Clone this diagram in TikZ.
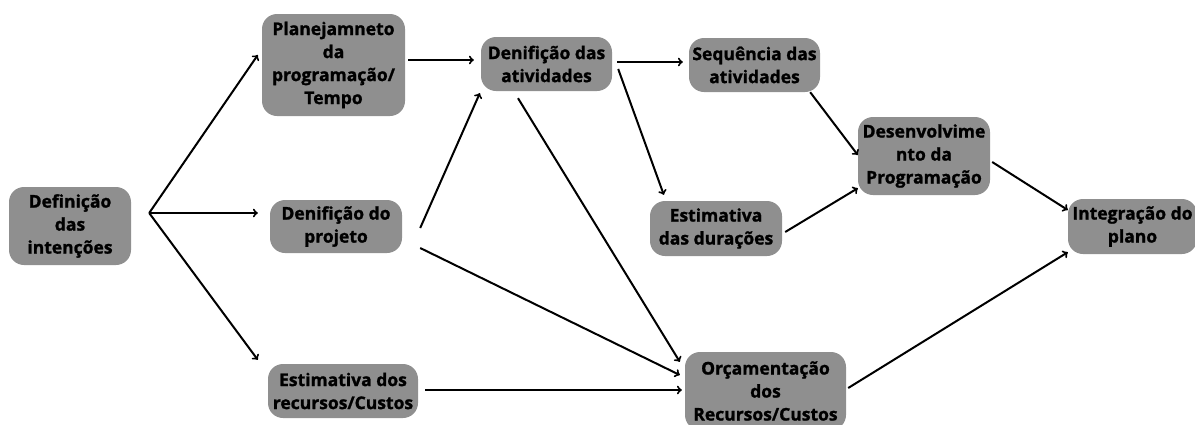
\documentclass[tikz,border=0pt]{standalone}
\usepackage{fontspec}
\setmainfont{Open Sans}
\newfontfamily\boxfont{Open Sans}[BoldFeatures={FakeBold=1.3}]
\usepackage{tikz}
\usetikzlibrary{arrows}
\usepackage{xcolor}
\definecolor{boxgray}{RGB}{143,143,143}

\tikzset{etapa/.style={rectangle, rounded corners=15pt, fill=boxgray, align=center,
    inner sep=0pt, font=\boxfont\fontsize{17.5}{23}\selectfont\bfseries},
  seta/.style={->, line width=2pt}}

\begin{document}
\begin{tikzpicture}[x=1pt,y=-1pt]
\useasboundingbox (0,0) rectangle (1195,424);

\node[etapa, minimum width=122pt, minimum height=78pt] (def) at (70,226) {Definição\\das\\intenções};
\node[etapa, minimum width=143pt, minimum height=102pt] (plan) at (333.5,65) {Planejamneto\\da\\programação/\\Tempo};
\node[etapa, minimum width=132pt, minimum height=53pt] (proj) at (336,226.5) {Denifição do\\projeto};
\node[etapa, minimum width=150pt, minimum height=54pt] (estrec) at (343,391) {Estimativa dos\\recursos/Custos};
\node[etapa, minimum width=131pt, minimum height=54pt] (ativ) at (546.5,64) {Denifição das\\atividades};
\node[etapa, minimum width=131pt, minimum height=54pt] (seq) at (754.5,65) {Sequência das\\atividades};
\node[etapa, minimum width=132pt, minimum height=55pt] (dur) at (716,228.5) {Estimativa\\das durações};
\node[etapa, minimum width=132pt, minimum height=78pt] (desen) at (924,156) {Desenvolvime\\nto da\\Programação};
\node[etapa, minimum width=129pt, minimum height=55pt] (integ) at (1132.5,226.5) {Integração do\\plano};
\node[etapa, minimum width=161pt, minimum height=78pt] (orc) at (765.5,391) {Orçamentação\\dos\\Recursos/Custos};

\coordinate (split) at ([xshift=18pt,yshift=13pt]def.east);

\draw[seta] (split) -- ([xshift=-4pt,yshift=10pt]plan.west);
\draw[seta] (split) -- ([xshift=-12pt,yshift=13.5pt]proj.west);
\draw[seta] (split) -- ([xshift=-10pt,yshift=4pt]estrec.north west);

\draw[seta] ([xshift=3pt,yshift=5pt]plan.east) -- ([xshift=-7pt,yshift=4pt]ativ.west);
\draw[seta] ([xshift=18pt,yshift=-1.5pt]proj.east) -- ([xshift=-1pt,yshift=-2pt]ativ.south west);
\draw[seta] ([xshift=18pt,yshift=-21.5pt]proj.east) -- ([xshift=-5pt,yshift=16pt]orc.west);
\draw[seta] ([xshift=-28.5pt,yshift=-7pt]ativ.south) -- ([xshift=-5pt,yshift=-10pt]orc.north west);
\draw[seta] ([xshift=5pt,yshift=2pt]ativ.east) -- ([xshift=-6pt,yshift=3pt]seq.west);
\draw[seta] ([xshift=6pt,yshift=-5pt]ativ.east) -- ([xshift=14pt,yshift=6pt]dur.north west);

\draw[seta] ([xshift=-10pt]seq.south east) -- ([yshift=1pt]desen.west);
\draw[seta] ([xshift=3pt,yshift=-3.5pt]dur.east) -- ([yshift=7pt]desen.south west);
\draw[seta] ([xshift=2pt,yshift=-6pt]desen.east) -- ([yshift=16.5pt]integ.west);

\draw[seta] ([xshift=7pt,yshift=1pt]estrec.east) -- ([xshift=-3pt,yshift=1pt]orc.west);
\draw[seta] ([xshift=2pt,yshift=3pt]orc.east) -- ([yshift=2pt]integ.south west);

\end{tikzpicture}
\end{document}
